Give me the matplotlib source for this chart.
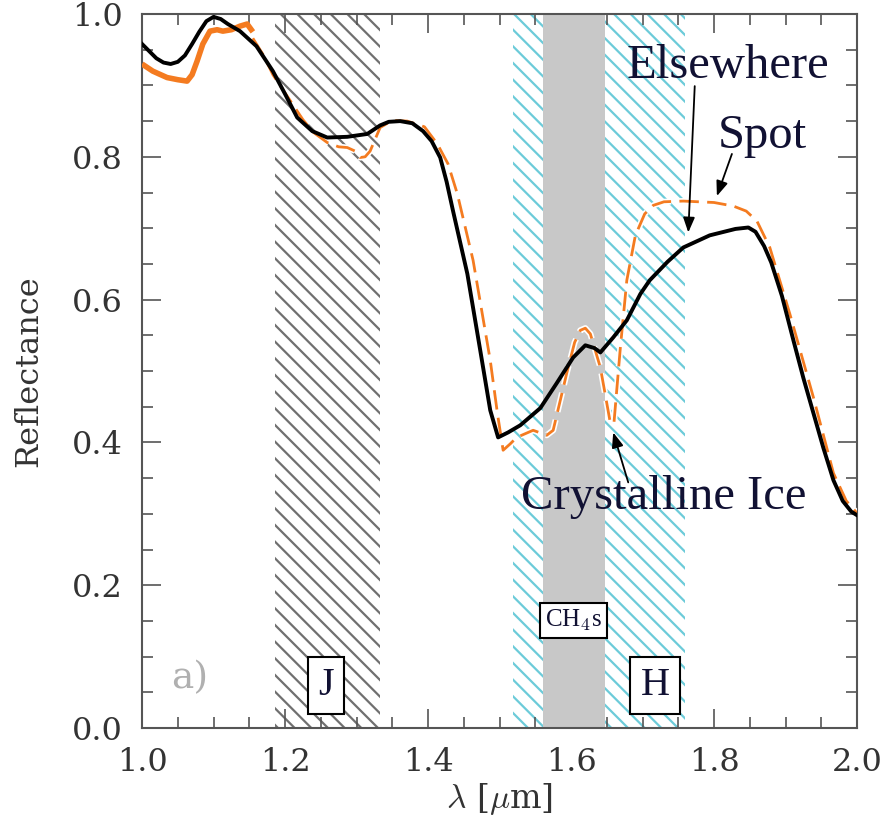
import matplotlib
matplotlib.use("Agg")
import matplotlib.pyplot as plt
import matplotlib.patheffects as pe
from matplotlib.ticker import MultipleLocator

# wavelength bands (micron)
j_band = (1.186, 1.333)
h_band = (1.519, 1.759)
ch4_band = (1.561, 1.648)

# "Elsewhere" spectrum (black)
x_else = [1.000, 1.010, 1.020, 1.030, 1.040, 1.050, 1.060, 1.070, 1.080, 1.090,
          1.100, 1.110, 1.120, 1.137, 1.160, 1.183, 1.200, 1.217, 1.238, 1.259,
          1.287, 1.315, 1.333, 1.345, 1.361, 1.378, 1.393, 1.405, 1.417, 1.426,
          1.435, 1.455, 1.473, 1.487, 1.498, 1.512, 1.529, 1.557, 1.580, 1.603,
          1.620, 1.633, 1.641, 1.659, 1.678, 1.697, 1.710, 1.735, 1.757, 1.794,
          1.830, 1.848, 1.858, 1.870, 1.880, 1.895, 1.911, 1.925, 1.939, 1.953,
          1.967, 1.980, 1.992, 2.000]
y_else = [0.958, 0.948, 0.938, 0.932, 0.930, 0.933, 0.942, 0.958, 0.975, 0.990,
          0.996, 0.993, 0.986, 0.976, 0.955, 0.920, 0.888, 0.855, 0.836, 0.827,
          0.828, 0.832, 0.844, 0.849, 0.850, 0.847, 0.836, 0.822, 0.799, 0.765,
          0.724, 0.636, 0.529, 0.445, 0.407, 0.414, 0.424, 0.448, 0.483, 0.519,
          0.536, 0.532, 0.526, 0.547, 0.571, 0.608, 0.627, 0.653, 0.673, 0.690,
          0.699, 0.701, 0.695, 0.675, 0.652, 0.605, 0.543, 0.490, 0.441, 0.392,
          0.347, 0.318, 0.303, 0.298]

# "Spot" spectrum (orange): noisy short-wave part, then dashed part
x_spot_a = [1.000, 1.015, 1.035, 1.050, 1.063, 1.070, 1.077, 1.085, 1.095, 1.105,
            1.113, 1.125, 1.137, 1.147, 1.155]
y_spot_a = [0.930, 0.920, 0.911, 0.908, 0.906, 0.915, 0.934, 0.958, 0.976, 0.978,
            0.976, 0.978, 0.983, 0.986, 0.975]
x_spot_b = [1.155, 1.170, 1.183, 1.203, 1.225, 1.240, 1.259, 1.275, 1.287, 1.298,
            1.305, 1.312, 1.319, 1.333, 1.350, 1.371, 1.395, 1.413, 1.428, 1.441,
            1.463, 1.487, 1.497, 1.505, 1.515, 1.524, 1.547, 1.566, 1.575, 1.594,
            1.605, 1.613, 1.620, 1.627, 1.641, 1.655, 1.660, 1.669, 1.678, 1.690,
            1.703, 1.715, 1.730, 1.757, 1.800, 1.827, 1.845, 1.860, 1.878, 1.906,
            1.939, 1.967, 1.985, 2.000]
y_spot_b = [0.966, 0.942, 0.915, 0.885, 0.852, 0.834, 0.820, 0.814, 0.813, 0.808,
            0.799, 0.800, 0.808, 0.841, 0.851, 0.850, 0.842, 0.818, 0.790, 0.748,
            0.655, 0.515, 0.441, 0.389, 0.398, 0.407, 0.417, 0.410, 0.417, 0.497,
            0.540, 0.557, 0.560, 0.552, 0.505, 0.427, 0.427, 0.533, 0.627, 0.690,
            0.720, 0.732, 0.737, 0.738, 0.736, 0.731, 0.724, 0.710, 0.673, 0.580,
            0.463, 0.357, 0.318, 0.301]

plt.rcParams['font.family'] = ['DejaVu Serif']
plt.rcParams['mathtext.fontset'] = 'cm'
plt.rcParams['hatch.linewidth'] = 1.6

fig = plt.figure(figsize=(8.85, 8.34), dpi=100)
ax = fig.add_axes([0.1605, 0.1271, 0.8079, 0.8561])

# shaded bands
ax.axvspan(j_band[0], j_band[1], facecolor='none', edgecolor='#707070',
           hatch='\\\\', linewidth=0, zorder=1)
ax.axvspan(h_band[0], h_band[1], facecolor='none', edgecolor='#6ccbd9',
           hatch='\\\\', linewidth=0, zorder=1)
ax.axvspan(ch4_band[0], ch4_band[1], facecolor='#c8c8c8', edgecolor='none', zorder=2)

halo = [pe.Stroke(linewidth=4.4, foreground='white'), pe.Normal()]
ax.plot(x_spot_a, y_spot_a, color='#f47b20', lw=4.0, solid_capstyle='butt', zorder=3)
ax.plot(x_spot_b, y_spot_b, color='#f47b20', lw=2.0, dashes=(7, 3),
        path_effects=halo, zorder=3)
ax.plot(x_else, y_else, color='black', lw=2.8, zorder=4)

# band labels
txtc = '#111133'
box = dict(boxstyle='square,pad=0.25', facecolor='white', edgecolor='black', lw=1.5)
ax.text(1.257, 0.060, 'J', fontsize=29, family='Liberation Serif', color=txtc,
        ha='center', va='center', bbox=box, zorder=6)
ax.text(1.7175, 0.060, 'H', fontsize=29, family='Liberation Serif', color=txtc,
        ha='center', va='center', bbox=box, zorder=6)
ax.text(1.604, 0.151, r'CH$_4$s', fontsize=18, family='Liberation Serif', color=txtc,
        ha='center', va='center', bbox=dict(boxstyle='square,pad=0.2', facecolor='white',
                                             edgecolor='black', lw=1.5), zorder=6)
ax.text(1.067, 0.070, 'a)', fontsize=27, color='#b0b0b0', ha='center', va='center', zorder=6)

# curve annotations
arrow = dict(arrowstyle='-|>,head_length=0.9,head_width=0.35', color='black', lw=1.3,
             shrinkA=0, shrinkB=0)
ax.text(1.820, 0.927, 'Elsewhere', fontsize=35, family='Liberation Serif',
        color=txtc, ha='center', va='center', zorder=6)
ax.annotate('', xy=(1.764, 0.694), xytext=(1.773, 0.899), arrowprops=arrow, zorder=6)
ax.text(1.868, 0.829, 'Spot', fontsize=35, family='Liberation Serif',
        color=txtc, ha='center', va='center', zorder=6)
ax.annotate('', xy=(1.804, 0.745), xytext=(1.825, 0.804), arrowprops=arrow, zorder=6)
ax.text(1.729, 0.323, 'Crystalline Ice', fontsize=35, family='Liberation Serif',
        color=txtc, ha='center', va='center', zorder=6)
ax.annotate('', xy=(1.659, 0.414), xytext=(1.680, 0.344), arrowprops=arrow, zorder=6)

ax.set_xlim(1.0, 2.0)
ax.set_ylim(0.0, 1.0)
ax.xaxis.set_major_locator(MultipleLocator(0.2))
ax.xaxis.set_minor_locator(MultipleLocator(0.05))
ax.yaxis.set_major_locator(MultipleLocator(0.2))
ax.yaxis.set_minor_locator(MultipleLocator(0.05))
ax.tick_params(which='both', direction='in', top=True, right=True, colors='#555555',
               labelcolor='#333333', labelsize=23, width=1.2)
ax.tick_params(which='major', length=14, pad=14)
ax.tick_params(which='minor', length=8)
for s in ax.spines.values():
    s.set_color('#555555')
    s.set_linewidth(1.5)

ax.set_xlabel(r'$\lambda$ [$\mu$m]', fontsize=24, color='#333333', labelpad=2)
ax.set_ylabel('Reflectance', fontsize=23, color='#333333', labelpad=20)

fig.savefig('out.png', dpi=100)
